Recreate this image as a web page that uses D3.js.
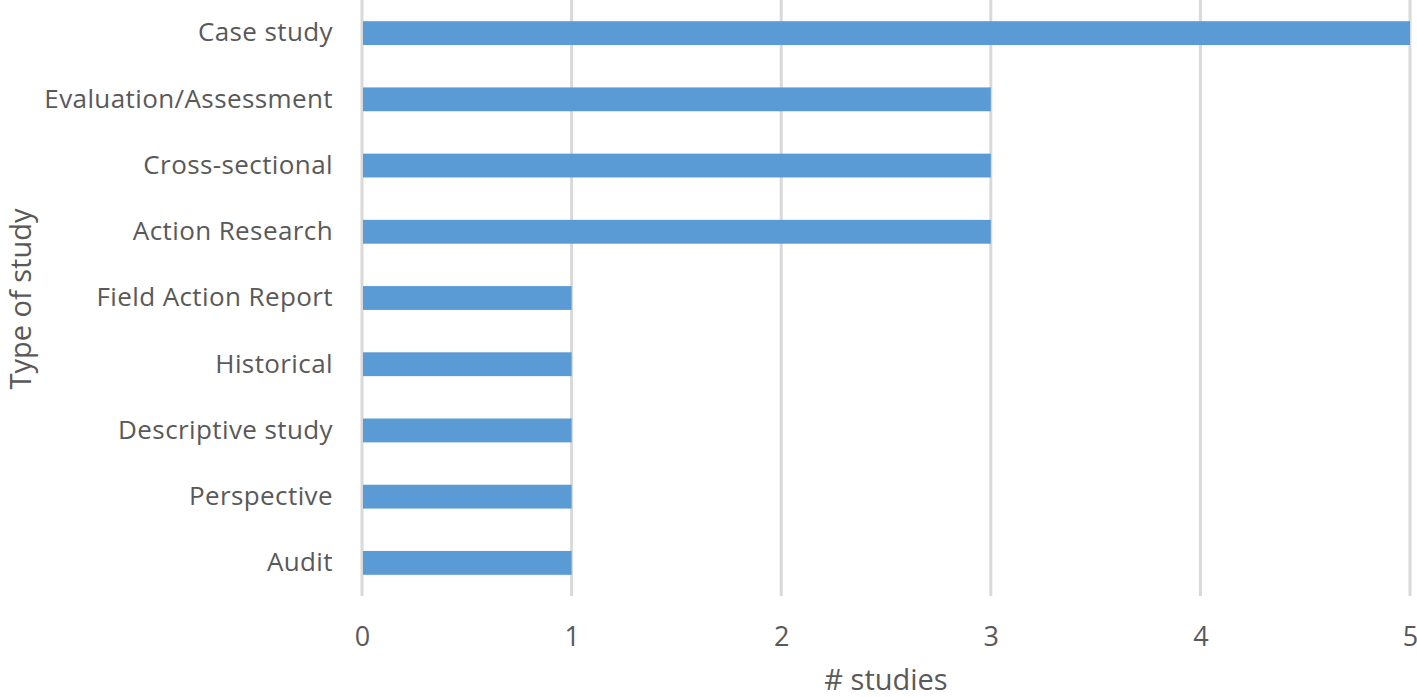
<!DOCTYPE html>
<html><head><meta charset="utf-8">
<script src="https://cdn.jsdelivr.net/npm/d3@7"></script>
<style>body{margin:0;background:#fff;} svg{display:block;}</style>
</head><body>
<svg id="c" width="1417" height="697"></svg>
<script>
const categories = ["Case study","Evaluation/Assessment","Cross-sectional","Action Research","Field Action Report","Historical","Descriptive study","Perspective","Audit"];
const values = [5,3,3,3,1,1,1,1,1];
const xTicks = [0,1,2,3,4,5];
const xTitle = "# studies";
const yTitle = "Type of study";

(function(){
const svg = d3.select("#c");
const font = "'Open Sans', sans-serif";
const textColor = "#595959";
const pL = 362, pR = 1410, pT = 0, pB = 596;

const x = d3.scaleLinear().domain([0,5]).range([pL,pR]);
const y = d3.scaleBand().domain(categories).range([pT,pB]).paddingInner(0.64).paddingOuter(0.32);

svg.append("g").selectAll("line").data(xTicks).join("line")
  .attr("x1",d=>x(d)).attr("x2",d=>x(d)).attr("y1",pT).attr("y2",pB)
  .attr("stroke","#d9d9d9").attr("stroke-width",3);

svg.append("g").selectAll("rect").data(categories).join("rect")
  .attr("x",x(0)+1).attr("y",d=>y(d))
  .attr("width",(d,i)=>x(values[i])-x(0)-1).attr("height",y.bandwidth())
  .attr("fill","#5b9bd5");

const xAxis = svg.append("g").attr("transform",`translate(0,${pB})`)
  .call(d3.axisBottom(x).tickValues(xTicks).tickFormat(d3.format("d")).tickSize(0).tickPadding(31));
xAxis.select(".domain").remove();
xAxis.selectAll("text").attr("font-family",font).attr("font-size",27).attr("fill",textColor);

const yAxis = svg.append("g").attr("transform",`translate(${pL-29},0)`)
  .call(d3.axisLeft(y).tickSize(0).tickPadding(0));
yAxis.select(".domain").remove();
yAxis.selectAll("text").attr("font-family",font).attr("font-size",26)
  .attr("letter-spacing","0.4px").attr("fill",textColor);

svg.append("text").attr("x",886).attr("y",690).attr("text-anchor","middle")
  .attr("font-family",font).attr("font-size",29).attr("fill",textColor).text(xTitle);
svg.append("text").attr("transform","translate(31,299) rotate(-90)").attr("text-anchor","middle")
  .attr("font-family",font).attr("font-size",29).attr("fill",textColor).text(yTitle);
})();
</script>
</body></html>
